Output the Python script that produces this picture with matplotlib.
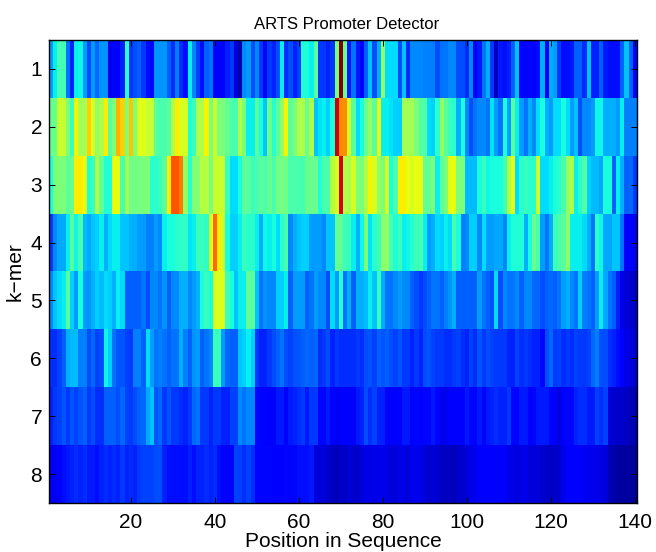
import numpy as np
import matplotlib
matplotlib.use("Agg")
import matplotlib.pyplot as plt

plt.rcParams["font.family"] = ["Liberation Sans", "DejaVu Sans"]

# heat per k-mer and position (scale 0-100 on jet)
kmer_1 = [28,36,43,43,24,16,36,37,28,20,28,23,27,27,10,12,11,16,41,18,20,22,18,14,13,27,27,27,22,17,25,17,14,36,26,19,14,22,24,13,12,12,16,18,8,4,26,28,
          20,26,18,13,18,16,20,36,17,20,16,19,39,39,36,46,18,18,16,18,50,100,48,15,24,15,12,22,32,20,30,52,34,34,34,20,32,17,26,26,26,25,25,25,20,
          24,24,26,26,20,20,17,26,12,15,24,30,18,6,15,14,16,22,32,13,13,13,11,14,30,12,30,28,18,14,14,15,22,22,17,32,16,16,22,15,14,14,14,22,32,22,13]
kmer_2 = [47,48,59,59,50,42,65,55,55,69,61,53,56,66,46,50,72,69,50,70,50,62,62,59,59,46,44,44,46,56,66,61,61,39,42,56,56,65,50,59,50,50,47,44,44,56,50,36,
          36,46,38,32,48,40,46,53,65,46,50,56,56,48,56,32,35,36,33,38,93,76,76,61,46,34,38,48,53,46,63,36,36,35,33,33,55,55,55,50,45,45,34,33,40,
          53,46,42,40,30,38,26,20,24,26,26,24,35,28,24,38,28,46,36,28,24,30,26,34,38,30,28,34,34,38,34,28,32,20,26,26,28,37,37,30,30,30,28,36,25,25,25]
kmer_3 = [38,50,50,50,46,48,66,66,63,39,42,56,47,39,39,63,63,44,55,49,49,49,50,50,40,40,42,46,66,82,82,78,53,40,51,51,57,57,50,59,59,59,42,34,34,38,46,46,
          42,44,46,44,47,44,49,49,49,44,44,44,43,48,48,48,39,44,44,57,61,92,57,55,61,50,50,56,65,61,53,50,61,38,44,66,66,63,61,63,63,47,47,50,36,
          46,50,63,63,50,50,31,31,31,38,42,37,38,38,38,43,56,63,34,40,42,40,40,60,34,34,36,38,40,44,53,57,36,40,45,33,31,31,29,38,38,22,36,30,22,23,18]
kmer_4 = [18,26,29,29,36,46,37,44,31,29,32,33,36,30,34,36,36,32,32,30,30,28,28,25,25,28,26,36,38,38,40,41,41,35,36,42,42,41,61,80,66,60,38,33,33,36,42,40,
          40,36,30,37,36,38,34,40,44,26,30,32,33,33,28,28,28,26,32,32,47,47,42,42,36,30,37,50,35,40,42,52,52,44,39,42,36,37,40,42,44,36,28,30,34,
          33,36,34,44,38,25,26,33,33,26,34,28,28,29,29,26,36,39,39,39,30,38,48,44,28,24,30,42,44,46,52,36,36,36,34,30,24,40,37,29,29,32,32,24,12,12,10]
kmer_5 = [26,32,34,36,46,33,28,38,28,27,30,33,31,34,33,30,36,34,22,22,22,22,24,20,26,26,24,27,22,26,26,30,30,26,28,30,38,42,38,61,62,62,42,38,32,36,36,47,
          46,32,24,27,26,26,33,33,36,22,28,28,28,22,24,28,26,26,20,34,28,40,24,30,22,30,30,31,36,32,42,30,24,24,26,28,26,26,22,20,18,20,22,24,24,
          22,25,27,30,22,22,22,22,22,28,24,22,20,34,20,26,24,24,26,22,26,26,23,23,20,22,23,22,24,28,30,26,24,33,25,24,22,28,36,29,24,22,16,9,8,7,6]
kmer_6 = [17,17,19,22,30,31,31,25,25,20,23,19,20,37,33,24,21,21,19,18,25,25,22,34,28,24,25,24,22,24,24,30,25,22,27,28,22,24,26,42,42,28,23,22,22,32,33,36,
          33,18,16,16,18,20,22,24,20,19,21,21,22,23,22,23,17,18,20,16,18,17,17,17,17,18,17,20,21,19,22,21,22,20,19,21,18,18,16,18,16,20,21,19,18,
          18,17,17,18,19,17,16,19,17,21,18,20,19,18,18,18,16,16,19,17,18,17,16,16,13,20,23,18,19,17,18,17,19,18,18,19,23,25,20,20,17,16,14,11,9,8,7]
kmer_7 = [16,18,19,21,18,21,19,21,22,18,20,17,17,22,22,22,20,23,19,18,20,22,23,29,32,21,23,18,21,18,18,17,16,18,23,24,18,18,16,18,18,16,16,19,19,26,24,26,
          26,13,13,12,12,12,15,15,12,15,16,17,18,15,18,18,13,13,15,11,10,12,11,11,11,15,16,20,17,19,16,16,13,11,12,12,15,15,12,13,12,13,13,15,13,
          10,10,11,11,11,11,15,13,11,15,13,15,16,17,16,16,18,13,13,15,15,12,13,15,15,15,12,11,8,12,13,13,16,17,17,15,15,19,17,19,8,7,7,7,6,5,4]
kmer_8 = [10,10,12,14,15,16,17,16,17,15,15,14,16,17,16,17,16,18,16,17,16,18,19,19,19,20,20,16,14,14,14,14,14,16,14,16,16,17,16,17,14,12,12,12,19,19,17,19,
          17,13,13,13,13,12,11,12,13,13,13,14,14,14,15,8,8,8,7,6,5,7,6,8,7,7,8,9,9,9,10,9,9,8,8,9,9,8,10,10,9,8,7,8,7,
          6,6,6,5,7,7,8,9,10,11,11,12,12,12,11,11,9,9,8,9,9,8,8,8,7,7,6,7,7,10,11,11,11,11,10,10,10,9,9,8,5,4,3,3,3,3,2]

x_ticks = [20, 40, 60, 80, 100, 120, 140]
y_ticks = [1, 2, 3, 4, 5, 6, 7, 8]

heat = np.array([kmer_1, kmer_2, kmer_3, kmer_4, kmer_5, kmer_6, kmer_7, kmer_8])

W, H = 656, 552
fig = plt.figure(figsize=(W / 100, H / 100), dpi=100)
ax = fig.add_axes([49 / W, 1 - 503 / H, 588 / W, 463 / H])

ax.imshow(heat, cmap="jet", vmin=0, vmax=100, aspect="auto", interpolation="nearest",
          extent=[0.5, 140.5, 8.5, 0.5])

ax.set_xticks(x_ticks)
ax.set_yticks(y_ticks)
ax.tick_params(direction="in", top=True, right=True, length=4, width=0.7, labelsize=15)
ax.tick_params(axis="x", pad=7)
ax.tick_params(axis="y", pad=5)
for s in ax.spines.values():
    s.set_linewidth(1)

ax.set_title("ARTS Promoter Detector", fontsize=12, pad=8, x=0.506)
ax.set_xlabel("Position in Sequence", fontsize=15, labelpad=0)
ax.set_ylabel("k\u2212mer", fontsize=15, labelpad=4)

fig.savefig("out.png", dpi=100)
